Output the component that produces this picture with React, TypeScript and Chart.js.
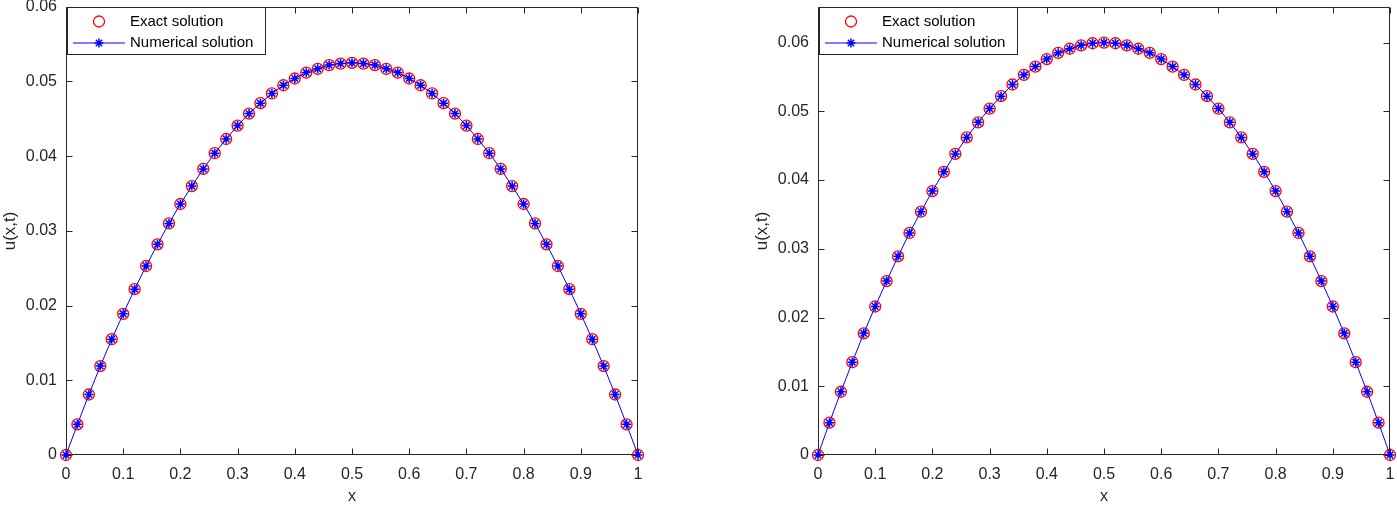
import React, { useEffect, useRef } from 'react';
import { Chart, registerables } from 'chart.js';

Chart.register(...registerables);

const xValues = [
  0, 0.02, 0.04, 0.06, 0.08, 0.1, 0.12, 0.14, 0.16, 0.18, 0.2, 0.22, 0.24, 0.26, 0.28, 0.3, 0.32,
  0.34, 0.36, 0.38, 0.4, 0.42, 0.44, 0.46, 0.48, 0.5, 0.52, 0.54, 0.56, 0.58, 0.6, 0.62, 0.64, 0.66,
  0.68, 0.7, 0.72, 0.74, 0.76, 0.78, 0.8, 0.82, 0.84, 0.86, 0.88, 0.9, 0.92, 0.94, 0.96, 0.98, 1,
];

const leftExact = [
  0, 0.0041, 0.0081, 0.0119, 0.0155, 0.0189, 0.0222, 0.0253, 0.0282, 0.031, 0.0336, 0.036, 0.0383,
  0.0404, 0.0423, 0.0441, 0.0457, 0.0471, 0.0484, 0.0495, 0.0504, 0.0512, 0.0517, 0.0522, 0.0524,
  0.0525, 0.0524, 0.0522, 0.0517, 0.0512, 0.0504, 0.0495, 0.0484, 0.0471, 0.0457, 0.0441, 0.0423,
  0.0404, 0.0383, 0.036, 0.0336, 0.031, 0.0282, 0.0253, 0.0222, 0.0189, 0.0155, 0.0119, 0.0081,
  0.0041, 0,
];
const leftNumerical = [
  0, 0.0041, 0.0081, 0.0119, 0.0155, 0.0189, 0.0222, 0.0253, 0.0282, 0.031, 0.0336, 0.036, 0.0383,
  0.0404, 0.0423, 0.0441, 0.0457, 0.0471, 0.0484, 0.0495, 0.0504, 0.0512, 0.0517, 0.0522, 0.0524,
  0.0525, 0.0524, 0.0522, 0.0517, 0.0512, 0.0504, 0.0495, 0.0484, 0.0471, 0.0457, 0.0441, 0.0423,
  0.0404, 0.0383, 0.036, 0.0336, 0.031, 0.0282, 0.0253, 0.0222, 0.0189, 0.0155, 0.0119, 0.0081,
  0.0041, 0,
];

const rightExact = [
  0, 0.0047, 0.0092, 0.0135, 0.0177, 0.0216, 0.0253, 0.0289, 0.0323, 0.0354, 0.0384, 0.0412, 0.0438,
  0.0462, 0.0484, 0.0504, 0.0522, 0.0539, 0.0553, 0.0565, 0.0576, 0.0585, 0.0591, 0.0596, 0.0599,
  0.06, 0.0599, 0.0596, 0.0591, 0.0585, 0.0576, 0.0565, 0.0553, 0.0539, 0.0522, 0.0504, 0.0484,
  0.0462, 0.0438, 0.0412, 0.0384, 0.0354, 0.0323, 0.0289, 0.0253, 0.0216, 0.0177, 0.0135, 0.0092,
  0.0047, 0,
];
const rightNumerical = [
  0, 0.0047, 0.0092, 0.0135, 0.0177, 0.0216, 0.0253, 0.0289, 0.0323, 0.0354, 0.0384, 0.0412, 0.0438,
  0.0462, 0.0484, 0.0504, 0.0522, 0.0539, 0.0553, 0.0565, 0.0576, 0.0585, 0.0591, 0.0596, 0.0599,
  0.06, 0.0599, 0.0596, 0.0591, 0.0585, 0.0576, 0.0565, 0.0553, 0.0539, 0.0522, 0.0504, 0.0484,
  0.0462, 0.0438, 0.0412, 0.0384, 0.0354, 0.0323, 0.0289, 0.0253, 0.0216, 0.0177, 0.0135, 0.0092,
  0.0047, 0,
];

const legendLabels = ['Exact solution', 'Numerical solution'];
const xTitle = 'x';
const yTitle = 'u(x,t)';

const FONT = '"Liberation Sans", Arial, Helvetica, sans-serif';
const AXIS_COLOR = '#262626';
const RED = '#ff0000';
const BLUE = '#0000ff';

const framePlugin = {
  id: 'frame',
  beforeDatasetsDraw(chart: any) {
    const { ctx, chartArea: a, scales } = chart;
    const L = Math.round(a.left) + 0.5;
    const R = Math.round(a.right) - 0.5;
    const T = Math.round(a.top) + 0.5;
    const B = Math.round(a.bottom) - 0.5;
    const tl = 6;
    ctx.save();
    ctx.strokeStyle = AXIS_COLOR;
    ctx.lineWidth = 1;
    ctx.beginPath();
    ctx.rect(L, T, R - L, B - T);
    ctx.stroke();
    ctx.beginPath();
    for (const t of scales.x.ticks) {
      const px = Math.round(scales.x.getPixelForValue(t.value)) + 0.5;
      ctx.moveTo(px, B);
      ctx.lineTo(px, B - tl);
      ctx.moveTo(px, T);
      ctx.lineTo(px, T + tl);
    }
    for (const t of scales.y.ticks) {
      const py = Math.round(scales.y.getPixelForValue(t.value)) + 0.5;
      ctx.moveTo(L, py);
      ctx.lineTo(L + tl, py);
      ctx.moveTo(R, py);
      ctx.lineTo(R - tl, py);
    }
    ctx.stroke();
    ctx.restore();
  },
};

const legendPlugin = {
  id: 'matlabLegend',
  afterDraw(chart: any) {
    const { ctx, chartArea: a } = chart;
    const left = Math.round(a.left) + 1;
    const top = Math.round(a.top);
    const w = 198;
    const h = 47;
    ctx.save();
    ctx.fillStyle = '#ffffff';
    ctx.fillRect(left, top, w, h);
    ctx.strokeStyle = AXIS_COLOR;
    ctx.lineWidth = 1;
    ctx.strokeRect(left + 0.5, top + 0.5, w, h);
    const row1 = top + 14.5;
    const row2 = top + 36;
    const mx = left + 32;
    ctx.strokeStyle = RED;
    ctx.lineWidth = 1.3;
    ctx.beginPath();
    ctx.arc(mx, row1, 5.5, 0, Math.PI * 2);
    ctx.stroke();
    ctx.strokeStyle = BLUE;
    ctx.lineWidth = 1;
    ctx.beginPath();
    ctx.moveTo(left + 6, row2);
    ctx.lineTo(left + 58, row2);
    ctx.stroke();
    ctx.lineWidth = 1.5;
    ctx.beginPath();
    const r = 4.5;
    for (let k = 0; k < 4; k++) {
      const ang = (k * Math.PI) / 4;
      ctx.moveTo(mx - r * Math.cos(ang), row2 - r * Math.sin(ang));
      ctx.lineTo(mx + r * Math.cos(ang), row2 + r * Math.sin(ang));
    }
    ctx.stroke();
    ctx.fillStyle = '#000000';
    ctx.font = `15px ${FONT}`;
    ctx.textAlign = 'left';
    ctx.textBaseline = 'middle';
    ctx.fillText(legendLabels[0], left + 63, row1);
    ctx.fillText(legendLabels[1], left + 63, row2);
    ctx.restore();
  },
};

const fmt = (v: any) => {
  const n = Number(v);
  return String(Number(n.toFixed(2)));
};

type PanelProps = {
  exact: number[];
  numerical: number[];
  yMax: number;
  padLeft: number;
  padRight: number;
  width: number;
  offsetX: number;
};

function Panel({ exact, numerical, yMax, padLeft, padRight, width, offsetX }: PanelProps) {
  const ref = useRef<HTMLCanvasElement | null>(null);
  useEffect(() => {
    if (!ref.current) return;
    const chart = new Chart(ref.current, {
      type: 'line',
      data: {
        datasets: [
          {
            label: legendLabels[0],
            data: xValues.map((x, i) => ({ x, y: exact[i] })),
            showLine: false,
            pointStyle: 'circle',
            pointRadius: 5.5,
            pointBorderWidth: 1.3,
            pointBorderColor: RED,
            pointBackgroundColor: 'rgba(0,0,0,0)',
            borderColor: RED,
            clip: false as any,
            order: 2,
          },
          {
            label: legendLabels[1],
            data: xValues.map((x, i) => ({ x, y: numerical[i] })),
            showLine: true,
            borderColor: BLUE,
            borderWidth: 1,
            pointStyle: 'star',
            pointRadius: 4.5,
            pointBorderWidth: 1.5,
            pointBorderColor: BLUE,
            pointBackgroundColor: BLUE,
            tension: 0,
            clip: false as any,
            order: 1,
          },
        ],
      },
      options: {
        responsive: false,
        animation: false,
        events: [],
        layout: { padding: { left: padLeft, right: padRight, top: 5, bottom: 0 } },
        plugins: { legend: { display: false }, tooltip: { enabled: false } },
        scales: {
          x: {
            type: 'linear',
            min: 0,
            max: 1,
            grid: { display: false, drawTicks: false },
            border: { display: false },
            ticks: {
              stepSize: 0.1,
              color: AXIS_COLOR,
              font: { family: FONT, size: 16 },
              padding: 10,
              maxRotation: 0,
              autoSkip: false,
              callback: fmt,
            },
            title: {
              display: true,
              text: xTitle,
              color: AXIS_COLOR,
              font: { family: FONT, size: 16 },
              padding: 0,
            },
            afterFit(s: any) {
              s.height = 51;
              s.paddingLeft = 0;
              s.paddingRight = 0;
            },
          },
          y: {
            type: 'linear',
            min: 0,
            max: yMax,
            grid: { display: false, drawTicks: false },
            border: { display: false },
            ticks: {
              stepSize: 0.01,
              includeBounds: false,
              color: AXIS_COLOR,
              font: { family: FONT, size: 16 },
              padding: 9,
              autoSkip: false,
              callback: fmt,
            },
            title: {
              display: true,
              text: yTitle,
              color: AXIS_COLOR,
              font: { family: FONT, size: 17 },
              padding: 0,
            },
            afterFit(s: any) {
              s.width = 66;
              s.paddingTop = 0;
              s.paddingBottom = 0;
            },
          },
        },
      },
      plugins: [framePlugin, legendPlugin],
    } as any);
    return () => chart.destroy();
  }, [exact, numerical, yMax, padLeft, padRight, width]);
  return (
    <canvas
      ref={ref}
      width={width}
      height={506}
      style={{ position: 'absolute', left: offsetX, top: 0, width, height: 506, display: 'block' }}
    />
  );
}

export default function App() {
  return (
    <div style={{ position: 'fixed', left: 0, top: 0, width: 1397, height: 506, background: '#ffffff' }}>
      <Panel exact={leftExact} numerical={leftNumerical} yMax={0.06} padLeft={0} padRight={62} width={700} offsetX={0} />
      <Panel exact={rightExact} numerical={rightNumerical} yMax={0.0652} padLeft={52} padRight={7} width={697} offsetX={700} />
    </div>
  );
}
